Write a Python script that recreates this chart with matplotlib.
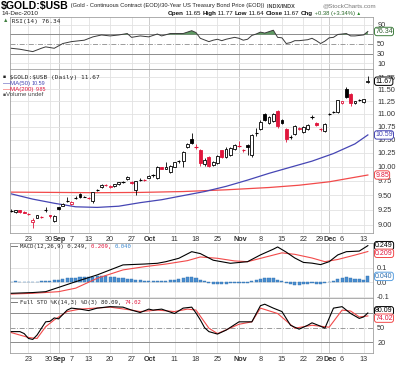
import numpy as np
import pandas as pd
import matplotlib
matplotlib.use('Agg')
import matplotlib.pyplot as plt
import matplotlib.transforms as mtransforms
from matplotlib.ticker import FixedLocator, NullLocator

# ---------------- data ----------------
dates = pd.bdate_range('2010-08-17', '2010-12-14')
dates = dates.drop(pd.to_datetime(['2010-09-06', '2010-11-25']))
keys = [d.strftime('%m-%d') for d in dates]

opens = [9.23, 9.21, 9.24, 9.22, 9.18, 9.05, 9.12, 9.135, 9.24, 9.16,
         9.07, 9.29, 9.32, 9.40, 9.35, 9.45, 9.52, 9.47, 9.455, 9.39,
         9.58, 9.64, 9.675, 9.64, 9.65, 9.69, 9.72, 9.78, 9.73, 9.59,
         9.76, 9.765, 9.80, 9.84, 9.80, 9.985, 9.96, 9.90, 10.00, 10.10,
         10.10, 10.37, 10.52, 10.37, 10.30, 10.05, 10.18, 10.03, 10.06, 10.30,
         10.17, 10.22, 10.32, 10.38, 10.31, 10.40, 10.21, 10.62, 10.70, 11.00,
         10.82, 10.86, 11.05, 10.88, 10.70, 10.55, 10.60, 10.70, 10.64, 10.70,
         10.93, 10.83, 10.71, 10.67, 11.00, 11.03, 11.04, 11.22, 11.50, 11.40,
         11.22, 11.27, 11.24, 11.65]
highs = [9.27, 9.25, 9.25, 9.23, 9.20, 9.12, 9.17, 9.15, 9.30, 9.17,
         9.16, 9.30, 9.36, 9.47, 9.39, 9.48, 9.53, 9.49, 9.47, 9.56,
         9.60, 9.69, 9.69, 9.68, 9.70, 9.73, 9.74, 9.84, 9.74, 9.75,
         9.80, 9.78, 9.85, 9.86, 10.02, 9.99, 10.08, 10.03, 10.09, 10.13,
         10.28, 10.43, 10.62, 10.42, 10.32, 10.15, 10.20, 10.10, 10.22, 10.31,
         10.36, 10.37, 10.41, 10.48, 10.33, 10.42, 10.60, 10.72, 10.88, 11.02,
         10.95, 11.02, 11.08, 10.90, 10.72, 10.58, 10.79, 10.75, 10.76, 10.80,
         10.97, 10.85, 10.73, 10.82, 11.02, 11.06, 11.28, 11.26, 11.55, 11.42,
         11.26, 11.30, 11.31, 11.77]
lows = [9.21, 9.19, 9.20, 9.19, 9.16, 8.95, 9.11, 9.12, 9.22, 9.12,
        9.05, 9.25, 9.31, 9.38, 9.33, 9.43, 9.45, 9.46, 9.43, 9.37,
        9.57, 9.63, 9.66, 9.63, 9.64, 9.68, 9.71, 9.77, 9.70, 9.50,
        9.75, 9.74, 9.79, 9.82, 9.78, 9.95, 9.95, 9.88, 9.99, 10.07,
        10.00, 10.35, 10.42, 10.32, 10.02, 10.02, 9.99, 10.01, 10.04, 10.16,
        10.15, 10.20, 10.30, 10.36, 10.27, 10.22, 10.18, 10.56, 10.68, 10.86,
        10.80, 10.84, 10.72, 10.80, 10.45, 10.52, 10.58, 10.68, 10.62, 10.68,
        10.90, 10.76, 10.66, 10.65, 10.98, 11.01, 11.02, 11.20, 11.32, 11.15,
        11.20, 11.25, 11.22, 11.64]
closes = [9.235, 9.245, 9.215, 9.20, 9.175, 9.08, 9.16, 9.13, 9.245, 9.14,
          9.15, 9.26, 9.35, 9.41, 9.38, 9.455, 9.46, 9.475, 9.45, 9.55,
          9.585, 9.68, 9.67, 9.665, 9.69, 9.72, 9.725, 9.81, 9.71, 9.74,
          9.77, 9.76, 9.84, 9.845, 10.00, 9.965, 9.99, 10.02, 10.08, 10.105,
          10.27, 10.41, 10.44, 10.36, 10.06, 10.13, 10.02, 10.09, 10.20, 10.18,
          10.32, 10.35, 10.40, 10.39, 10.30, 10.36, 10.58, 10.625, 10.85, 10.88,
          10.93, 11.00, 10.76, 10.82, 10.51, 10.555, 10.77, 10.73, 10.75, 10.78,
          10.935, 10.78, 10.70, 10.80, 11.005, 11.035, 11.27, 11.25, 11.34, 11.21,
          11.25, 11.275, 11.293, 11.67]

ma50_dates = ['08-17', '08-24', '08-31', '09-08', '09-15', '09-22', '09-29', '10-06', '10-13',
              '10-20', '10-27', '11-03', '11-10', '11-17', '11-24', '12-02', '12-09', '12-14']
ma50_vals = [9.52, 9.43, 9.36, 9.30, 9.29, 9.31, 9.37, 9.42, 9.49,
             9.56, 9.65, 9.76, 9.88, 9.99, 10.10, 10.24, 10.42, 10.59]
ma200_dates = ['08-17', '08-31', '09-15', '09-29', '10-13', '10-27', '11-10', '11-19', '12-01', '12-09', '12-14']
ma200_vals = [9.55, 9.545, 9.54, 9.545, 9.56, 9.59, 9.63, 9.67, 9.73, 9.81, 9.85]

rsi_dates = ['08-17', '08-19', '08-24', '08-26', '08-27', '08-31', '09-02', '09-07', '09-10', '09-14',
             '09-16', '09-20', '09-22', '09-24', '09-27', '09-29', '10-01', '10-05', '10-06', '10-08',
             '10-13', '10-15', '10-18', '10-19', '10-21', '10-22', '10-25', '10-26', '10-27', '10-29',
             '11-01', '11-02', '11-03', '11-04', '11-05', '11-08', '11-09', '11-10', '11-11', '11-12',
             '11-15', '11-16', '11-17', '11-18', '11-19', '11-22', '11-23', '11-24', '11-26', '11-29',
             '11-30', '12-01', '12-02', '12-03', '12-06', '12-07', '12-08', '12-09', '12-10', '12-13', '12-14']
rsi_vals = [41, 39, 34, 41, 44, 41, 51, 55, 58, 65,
            69, 67, 69, 72, 64, 67, 65, 71, 67, 72,
            72, 78, 74, 62, 55, 58, 60, 57, 60, 64,
            62, 58, 60, 68, 71, 75, 73, 76, 79, 64,
            63, 51, 53, 57, 57, 58, 59, 62, 57, 51,
            56, 63, 64, 70, 71, 72, 67, 67, 68, 69, 76.34]

macd_dates = ['08-17', '08-24', '08-27', '09-01', '09-08', '09-15', '09-20', '09-23', '09-30', '10-05',
              '10-07', '10-12', '10-15', '10-19', '10-22', '10-28', '11-03', '11-08', '11-11', '11-12',
              '11-16', '11-18', '11-22', '11-24', '11-29', '12-01', '12-03', '12-07', '12-10', '12-14']
macd_vals = [-0.075, -0.070, -0.064, -0.035, 0.004, 0.050, 0.084, 0.118, 0.124, 0.129,
             0.140, 0.163, 0.208, 0.195, 0.150, 0.129, 0.140, 0.186, 0.225, 0.240,
             0.205, 0.165, 0.135, 0.130, 0.120, 0.140, 0.186, 0.208, 0.212, 0.249]
signal_dates = ['08-17', '08-24', '09-01', '09-08', '09-15', '09-23', '09-30', '10-07', '10-14', '10-19',
                '10-25', '10-29', '11-03', '11-09', '11-15', '11-18', '11-24', '11-30', '12-03', '12-09', '12-14']
signal_vals = [-0.080, -0.075, -0.064, -0.040, 0.027, 0.084, 0.106, 0.124, 0.147, 0.172,
               0.163, 0.145, 0.140, 0.170, 0.200, 0.190, 0.165, 0.140, 0.155, 0.185, 0.209]
hist_vals = [0.005, 0.006, 0.004, 0.003, 0.004, 0.002, 0.004, 0.006, 0.010, 0.012,
             0.014, 0.018, 0.022, 0.026, 0.030, 0.032, 0.034, 0.035, 0.035, 0.038,
             0.040, 0.042, 0.040, 0.038, 0.034, 0.030, 0.026, 0.024, 0.020, 0.018,
             0.014, 0.010, 0.008, 0.006, 0.008, 0.010, 0.012, 0.014, 0.018, 0.022,
             0.028, 0.034, 0.036, 0.030, 0.018, 0.006, -0.004, -0.010, -0.012, -0.012,
             -0.010, -0.008, -0.006, -0.006, -0.004, -0.002, 0.008, 0.016, 0.022, 0.026,
             0.028, 0.026, 0.018, 0.010, -0.006, -0.012, -0.016, -0.016, -0.014, -0.012,
             -0.008, -0.010, -0.012, -0.008, 0.002, 0.012, 0.024, 0.030, 0.034, 0.030,
             0.024, 0.020, 0.018, 0.040]

stok_dates = ['08-17', '08-19', '08-20', '08-23', '08-24', '08-25', '08-27', '08-30', '08-31', '09-01',
              '09-03', '09-07', '09-09', '09-13', '09-15', '09-20', '09-23', '09-27', '09-29', '10-01',
              '10-04', '10-06', '10-11', '10-13', '10-15', '10-18', '10-19', '10-20', '10-21', '10-25',
              '10-27', '11-01', '11-04', '11-08', '11-09', '11-11', '11-15', '11-17', '11-19', '11-23',
              '11-24', '11-29', '11-30', '12-02', '12-06', '12-08', '12-10', '12-13', '12-14']
stok_vals = [42, 42, 38, 28, 26, 35, 62, 63, 70, 68,
             86, 90, 88, 85, 90, 93, 92, 86, 81, 88,
             86, 88, 79, 90, 92, 80, 66, 50, 42, 37,
             45, 62, 62, 95, 98, 90, 83, 55, 47, 55,
             60, 53, 49, 90, 93, 79, 69, 72, 80.09]
stod_dates = ['08-17', '08-23', '08-25', '08-27', '08-31', '09-03', '09-09', '09-20', '09-27', '09-29',
              '10-05', '10-11', '10-14', '10-18', '10-21', '10-25', '11-01', '11-04', '11-08', '11-12',
              '11-18', '11-24', '11-29', '12-01', '12-06', '12-08', '12-10', '12-14']
stod_vals = [40, 30, 28, 52, 66, 83, 88, 92, 86, 83,
             86, 83, 88, 86, 49, 38, 57, 62, 90, 79,
             49, 55, 53, 51, 86, 84, 72, 74.02]

tick_dates = ['08-23', '08-30', '09-01', '09-07', '09-13', '09-20', '09-27', '10-01', '10-11', '10-18',
              '10-25', '11-01', '11-08', '11-15', '11-22', '11-29', '12-01', '12-06', '12-13']
tick_labels = ['23', '30', 'Sep', '7', '13', '20', '27', 'Oct', '11', '18',
               '25', 'Nov', '8', '15', '22', '29', 'Dec', '6', '13']
price_ticks = [9.00, 9.25, 9.50, 9.75, 10.00, 10.25, 10.50, 10.75, 11.00, 11.25, 11.50, 11.75]
rsi_ticks = [10, 30, 50, 90]
macd_ticks = [-0.1, 0.0, 0.1]
sto_ticks = [20, 50]

# ---------------- helpers ----------------
pos = {k: i for i, k in enumerate(keys)}
def xs(dl):
    return [pos[d] for d in dl]

W, H = 400, 365
fig = plt.figure(figsize=(W / 100, H / 100), dpi=100)
fig.patch.set_facecolor('white')
plt.rcParams['font.family'] = ['Liberation Sans', 'DejaVu Sans']

RED = '#e0163c'
BLUE = '#4646b4'
RED2 = '#f24a4a'
HBLUE = '#4a8ed0'
GRID = '#e2e2e2'
MGRID = '#c4c4c4'
MONO = 'DejaVu Sans Mono'

def fx(p):
    return p / W
def fy(p):
    return 1 - p / H

L, R = 10, 373
def panel(top, bot):
    return fig.add_axes([fx(L), fy(bot), (R - L) / W, (bot - top) / H])

ax_r = panel(17, 69)
ax_p = panel(69, 233)
ax_m = panel(243, 298)
ax_s = panel(298, 353)

n = len(closes)
tpos = xs(tick_dates)
month_lbl = {'Sep', 'Oct', 'Nov', 'Dec'}

for ax in (ax_r, ax_p, ax_m, ax_s):
    ax.set_xlim(-0.3, n + 0.2)
    ax.set_facecolor('white')
    for s in ax.spines.values():
        s.set_color('#a0a0a0')
        s.set_linewidth(0.6)
    ax.yaxis.tick_right()
    ax.tick_params(axis='y', length=0, pad=3, labelsize=5.3, labelcolor='#333333')
    ax.tick_params(axis='x', length=0, pad=2.5, labelsize=5.2, labelcolor='#333333')
    ax.set_xticks(tpos)
    for xp, lb in zip(tpos, tick_labels):
        ax.axvline(xp, color=MGRID if lb in month_lbl else GRID, lw=0.6, zorder=0)
    ax.set_xticklabels([])

shift_r = mtransforms.ScaledTranslation(1.3 / 100, 0, fig.dpi_scale_trans)
shift_l = mtransforms.ScaledTranslation(-0.8 / 100, 0, fig.dpi_scale_trans)
for ax in (ax_p, ax_s):
    ax.set_xticklabels(tick_labels)
    labs = ax.get_xticklabels()
    for k, t in enumerate(labs):
        if t.get_text() in month_lbl:
            t.set_fontweight('bold')
            t.set_transform(t.get_transform() + shift_r)
            if k > 0 and tpos[k] - tpos[k - 1] <= 2:
                labs[k - 1].set_transform(labs[k - 1].get_transform() + shift_l)

# ---------------- RSI ----------------
rx = np.array(xs(rsi_dates), dtype=float)
rv = np.array(rsi_vals, dtype=float)
ax_r.set_ylim(-2.6, 106.8)
ax_r.set_yticks(rsi_ticks)
ax_r.set_yticklabels([str(v) for v in rsi_ticks])
for v in (10, 90):
    ax_r.axhline(v, color=GRID, lw=0.6, zorder=0)
for v in (30, 70):
    ax_r.axhline(v, color='#8c8c8c', lw=0.7, zorder=1)
ax_r.axhline(50, color='#8c8c8c', lw=0.6, ls='-.', dashes=(6, 2, 1, 2), zorder=1)
ax_r.fill_between(rx, rv, 70, where=rv > 70, interpolate=True, color='#4e8f52', alpha=0.9, lw=0, zorder=2)
ax_r.plot(rx, rv, color='#3a3a3a', lw=0.7, zorder=3)

# ---------------- Price ----------------
ax_p.set_yscale('log')
ax_p.set_ylim(8.87, 11.93)
ax_p.yaxis.set_major_locator(FixedLocator(price_ticks))
ax_p.yaxis.set_minor_locator(NullLocator())
ax_p.set_yticklabels(['%.2f' % v for v in price_ticks])
for v in price_ticks:
    ax_p.axhline(v, color=GRID, lw=0.6, zorder=0)

ax_p.plot(xs(ma200_dates), ma200_vals, color=RED2, lw=0.9, zorder=2)
ax_p.plot(xs(ma50_dates), ma50_vals, color=BLUE, lw=0.9, zorder=2)

for i in range(n):
    o, h, l, c = opens[i], highs[i], lows[i], closes[i]
    col = RED if (i > 0 and c < closes[i - 1]) else 'black'
    ax_p.vlines(i, l, h, color=col, lw=0.6, zorder=3)
    lo, hi = min(o, c), max(o, c)
    if hi - lo < 0.012:
        ax_p.hlines((lo + hi) / 2, i - 0.38, i + 0.38, color=col, lw=0.8, zorder=4)
    else:
        ax_p.bar(i, hi - lo, bottom=lo, width=0.66,
                 facecolor='white' if c >= o else col, edgecolor=col, lw=0.6, zorder=4)

# ---------------- MACD ----------------
ax_m.set_ylim(-0.107, 0.267)
ax_m.set_yticks(macd_ticks)
ax_m.set_yticklabels(['%.1f' % v for v in macd_ticks])
for v in macd_ticks:
    ax_m.axhline(v, color=GRID, lw=0.6, zorder=0)
ax_m.bar(range(n), hist_vals, width=0.72, color=HBLUE, edgecolor='#2f6fae', lw=0.3, zorder=2)
ax_m.plot(xs(signal_dates), signal_vals, color=RED2, lw=0.8, zorder=3)
ax_m.plot(xs(macd_dates), macd_vals, color='black', lw=0.8, zorder=4)

# ---------------- STO ----------------
ax_s.set_ylim(-1.7, 110.7)
ax_s.set_yticks(sto_ticks)
ax_s.set_yticklabels([str(v) for v in sto_ticks])
for v in (20, 80):
    ax_s.axhline(v, color='#8c8c8c', lw=0.7, zorder=1)
ax_s.axhline(50, color='#8c8c8c', lw=0.6, ls='-.', dashes=(6, 2, 1, 2), zorder=1)
ax_s.plot(xs(stod_dates), stod_vals, color=RED2, lw=0.8, zorder=3)
ax_s.plot(xs(stok_dates), stok_vals, color='black', lw=0.8, zorder=4)

# ---------------- value badges ----------------
def badge(ax, y, txt, ec, tc):
    tr = mtransforms.blended_transform_factory(ax.transAxes, ax.transData)
    ax.text(1.006, y, txt, transform=tr, fontsize=5.0, va='center', ha='left', color=tc,
            bbox=dict(boxstyle='round,pad=0.1,rounding_size=0.35', fc='white', ec=ec, lw=0.7),
            zorder=10, clip_on=False)

badge(ax_r, rsi_vals[-1], '%.2f' % rsi_vals[-1], '#3f7f3f', '#2f5f2f')
badge(ax_p, closes[-1], '%.2f' % closes[-1], 'black', 'black')
badge(ax_p, ma50_vals[-1], '%.2f' % ma50_vals[-1], BLUE, BLUE)
badge(ax_p, ma200_vals[-1], '%.2f' % ma200_vals[-1], RED2, RED)
badge(ax_m, macd_vals[-1], '%.3f' % macd_vals[-1], 'black', 'black')
badge(ax_m, signal_vals[-1] - 0.012, '%.3f' % signal_vals[-1], RED2, RED)
badge(ax_m, hist_vals[-1], '%.3f' % hist_vals[-1], '#5aa0e0', '#2f6fae')
badge(ax_s, stok_vals[-1] + 4.5, '%.2f' % stok_vals[-1], 'black', 'black')
badge(ax_s, stod_vals[-1] - 4.5, '%.2f' % stod_vals[-1], RED2, RED)

# ---------------- header / legends ----------------
renderer = fig.canvas.get_renderer()
def seq(x_px, y_px, pieces):
    x = fx(x_px)
    for s, kw in pieces:
        t = fig.text(x, fy(y_px), s, va='center', ha='left', **kw)
        bb = t.get_window_extent(renderer=renderer)
        x = fig.transFigure.inverted().transform((bb.x1, bb.y0))[0]

seq(1, 6, [(r'\$GOLD:\$USB', dict(fontsize=7.6, fontweight='bold', color='black')),
           (' (Gold - Continuous Contract (EOD)/30-Year US Treasury Bond Price (EOD))',
            dict(fontsize=4.15, color='#222222')),
           ('  INDX/INDX', dict(fontsize=4.0, fontweight='bold', color='#444444'))])
fig.text(fx(376), fy(6), '@StockCharts.com', fontsize=4.5, color='#777777', ha='right', va='center')
fig.text(fx(1), fy(13.5), '14-Dec-2010', fontsize=4.6, color='#222222', va='center')
hdr = dict(fontsize=4.4, color='#111111')
bld = dict(fontsize=4.5, color='#111111', fontweight='bold')
chg = closes[-1] - closes[-2]
seq(168, 13.5, [('Open', bld), (' %.2f ' % opens[-1], hdr),
                ('High', bld), (' %.2f ' % highs[-1], hdr),
                ('Low', bld), (' %.2f ' % lows[-1], hdr),
                ('Close', bld), (' %.2f ' % closes[-1], hdr),
                ('Chg', bld), (' +%.2f (+%.2f%%)' % (chg, 100 * chg / closes[-2]),
                              dict(fontsize=4.2, color='#2a6a2a')),
                (' \u25b2', dict(fontsize=3.4, color='#2a8a2a'))])

mono = dict(fontsize=4.4, family=MONO, color='#222222')
mono_s = dict(fontsize=4.05, family=MONO, color='#222222')
seq(3, 21, [('\u25b2', dict(fontsize=4.0, color='#3f7f3f')),
            (' RSI(14) %.2f' % rsi_vals[-1], mono)])
seq(3, 77, [('\u25a0', dict(fontsize=3.6, color='#222222')),
            (r' \$GOLD:\$USB (Daily) %.2f' % closes[-1], mono)])
seq(3, 83.3, [('\u2014', dict(fontsize=5, color=BLUE)),
              ('MA(50) ', dict(fontsize=4.4, color=BLUE)),
              ('%.2f' % ma50_vals[-1], dict(fontsize=3.9, color=BLUE))])
seq(3, 89.3, [('\u2014', dict(fontsize=5, color=RED2)),
              ('MA(200) ', dict(fontsize=4.4, color=RED)),
              ('%.2f' % ma200_vals[-1], dict(fontsize=3.9, color=RED))])
seq(3, 95, [('\u25a0', dict(fontsize=3.6, color='#555555')),
            ('Volume undef', dict(fontsize=4.4, color='#444444'))])

seq(11, 246.7, [('\u2014 ', dict(fontsize=5, color='black')),
                ('MACD(12,26,9) %.3f, ' % macd_vals[-1], mono_s),
                ('%.3f, ' % signal_vals[-1], dict(mono_s, color=RED)),
                ('%.3f' % hist_vals[-1], dict(mono_s, color='#3a86cc'))])
seq(11, 302.3, [('\u2014 ', dict(fontsize=5, color='black')),
                ('Full STO %%K(14,3) %%D(3) %.2f, ' % stok_vals[-1], mono_s),
                ('%.2f' % stod_vals[-1], dict(mono_s, color=RED))])

fig.savefig('out.png', dpi=100, facecolor='white')
